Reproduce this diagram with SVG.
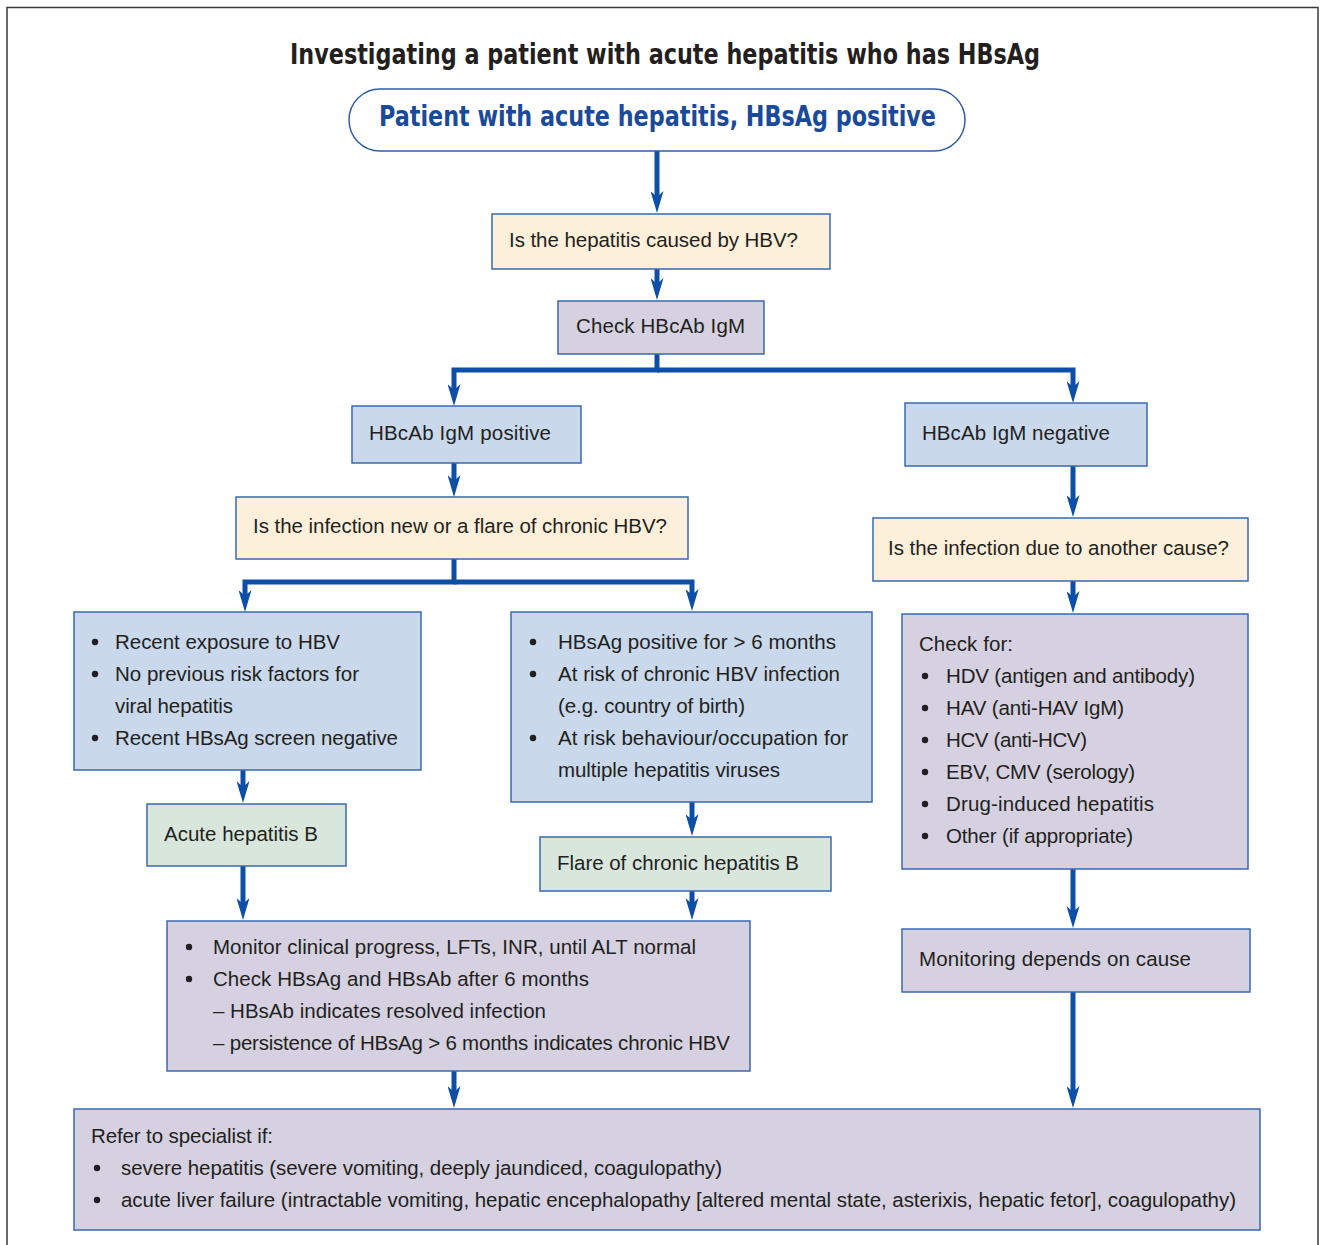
<svg xmlns="http://www.w3.org/2000/svg" width="1320" height="1245" viewBox="0 0 1320 1245">
<style>
.t{font-family:"Liberation Sans",Arial,sans-serif;font-size:20.5px;fill:#231f20}
.h{font-family:"DejaVu Sans Condensed","DejaVu Sans",sans-serif;font-weight:bold;font-stretch:condensed;font-size:29px}
.bx{stroke:#3a69b0;stroke-width:1.5}
.y{fill:#fdf0da}.p{fill:#d5d1e1}.b{fill:#c9d8ea}.g{fill:#d9e6dc}
.c{fill:none;stroke:#0d4ea6;stroke-width:5;stroke-linejoin:miter;marker-end:url(#ah)}
.d{fill:#231f20}
</style>
<defs>
<marker id="ah" viewBox="0 0 22 13" refX="6" refY="6.5" markerWidth="22" markerHeight="13" orient="auto" markerUnits="userSpaceOnUse">
<path d="M0,0 L22,6.5 L0,13 L6,6.5 Z" fill="#0d4ea6"/>
</marker>
</defs>
<rect width="1320" height="1245" fill="#ffffff"/>
<path d="M7,1245 V7.5 H1318 V1245" fill="none" stroke="#3a3a3a" stroke-width="1.5"/>
<g id="title"><text class="h" x="290" y="64" fill="#231f20" textLength="750" lengthAdjust="spacingAndGlyphs">Investigating a patient with acute hepatitis who has HBsAg</text></g>

<g id="connectors">
<path class="c" d="M657,151 V197"/>
<path class="c" d="M657,269 V284"/>
<path class="c" d="M657,354 V370 H454 V390"/>
<path class="c" d="M657,370 H1073 V387"/>
<path class="c" d="M454,463 V481"/>
<path class="c" d="M454,559 V582 H245 V596"/>
<path class="c" d="M454,582 H692 V595"/>
<path class="c" d="M1073,466 V501"/>
<path class="c" d="M1073,581 V597"/>
<path class="c" d="M243,770 V787"/>
<path class="c" d="M692,802 V820"/>
<path class="c" d="M243,866 V904"/>
<path class="c" d="M692,891 V904"/>
<path class="c" d="M1073,869 V912"/>
<path class="c" d="M454,1071 V1092"/>
<path class="c" d="M1073,992 V1092"/>
</g>

<g id="start">
<rect x="349" y="89" width="616" height="62" rx="31" fill="#ffffff" stroke="#2f5ea8" stroke-width="1.5"/>
<text class="h" x="379" y="126" fill="#1a4a9c" textLength="557" lengthAdjust="spacingAndGlyphs">Patient with acute hepatitis, HBsAg positive</text>
</g>

<g id="q-hbv">
<rect class="bx y" x="492" y="214" width="338" height="55"/>
<text class="t" x="509" y="247" textLength="289">Is the hepatitis caused by HBV?</text>
</g>

<g id="check-igm">
<rect class="bx p" x="558" y="301" width="206" height="53"/>
<text class="t" x="576" y="333" textLength="169">Check HBcAb IgM</text>
</g>

<g id="igm-pos">
<rect class="bx b" x="352" y="406" width="229" height="57"/>
<text class="t" x="369" y="440" textLength="182">HBcAb IgM positive</text>
</g>

<g id="igm-neg">
<rect class="bx b" x="905" y="403" width="242" height="63"/>
<text class="t" x="922" y="440" textLength="188">HBcAb IgM negative</text>
</g>

<g id="q-new">
<rect class="bx y" x="236" y="497" width="452" height="62"/>
<text class="t" x="253" y="533" textLength="414">Is the infection new or a flare of chronic HBV?</text>
</g>

<g id="q-other">
<rect class="bx y" x="873" y="518" width="375" height="63"/>
<text class="t" x="888" y="555" textLength="341">Is the infection due to another cause?</text>
</g>

<g id="new-criteria">
<rect class="bx b" x="74" y="612" width="347" height="158"/>
<circle class="d" cx="95" cy="642" r="3.2"/>
<circle class="d" cx="95" cy="674" r="3.2"/>
<circle class="d" cx="95" cy="738" r="3.2"/>
<text class="t" x="115" y="649" textLength="225">Recent exposure to HBV</text>
<text class="t" x="115" y="681" textLength="244">No previous risk factors for</text>
<text class="t" x="115" y="713" textLength="118">viral hepatitis</text>
<text class="t" x="115" y="745" textLength="283">Recent HBsAg screen negative</text>
</g>

<g id="flare-criteria">
<rect class="bx b" x="511" y="612" width="361" height="190"/>
<circle class="d" cx="533" cy="642" r="3.2"/>
<circle class="d" cx="533" cy="674" r="3.2"/>
<circle class="d" cx="533" cy="738" r="3.2"/>
<text class="t" x="558" y="649" textLength="278">HBsAg positive for &gt; 6 months</text>
<text class="t" x="558" y="681" textLength="282">At risk of chronic HBV infection</text>
<text class="t" x="558" y="713" textLength="187">(e.g. country of birth)</text>
<text class="t" x="558" y="745" textLength="290">At risk behaviour/occupation for</text>
<text class="t" x="558" y="777" textLength="222">multiple hepatitis viruses</text>
</g>

<g id="check-for">
<rect class="bx p" x="902" y="614" width="346" height="255"/>
<text class="t" x="919" y="651" textLength="94">Check for:</text>
<circle class="d" cx="925" cy="676" r="3.2"/>
<circle class="d" cx="925" cy="708" r="3.2"/>
<circle class="d" cx="925" cy="740" r="3.2"/>
<circle class="d" cx="925" cy="772" r="3.2"/>
<circle class="d" cx="925" cy="804" r="3.2"/>
<circle class="d" cx="925" cy="836" r="3.2"/>
<text class="t" x="946" y="683" textLength="249">HDV (antigen and antibody)</text>
<text class="t" x="946" y="715" textLength="178">HAV (anti-HAV IgM)</text>
<text class="t" x="946" y="747" textLength="141">HCV (anti-HCV)</text>
<text class="t" x="946" y="779" textLength="189">EBV, CMV (serology)</text>
<text class="t" x="946" y="811" textLength="208">Drug-induced hepatitis</text>
<text class="t" x="946" y="843" textLength="187">Other (if appropriate)</text>
</g>

<g id="acute-b">
<rect class="bx g" x="147" y="804" width="199" height="62"/>
<text class="t" x="164" y="841" textLength="154">Acute hepatitis B</text>
</g>

<g id="flare-b">
<rect class="bx g" x="540" y="837" width="291" height="54"/>
<text class="t" x="557" y="870" textLength="242">Flare of chronic hepatitis B</text>
</g>

<g id="monitor-cause">
<rect class="bx p" x="902" y="929" width="348" height="63"/>
<text class="t" x="919" y="966" textLength="272">Monitoring depends on cause</text>
</g>

<g id="monitor">
<rect class="bx p" x="167" y="921" width="583" height="150"/>
<circle class="d" cx="189" cy="947" r="3.2"/>
<circle class="d" cx="189" cy="979" r="3.2"/>
<text class="t" x="213" y="954" textLength="483">Monitor clinical progress, LFTs, INR, until ALT normal</text>
<text class="t" x="213" y="986" textLength="376">Check HBsAg and HBsAb after 6 months</text>
<text class="t" x="213" y="1018" textLength="333">– HBsAb indicates resolved infection</text>
<text class="t" x="213" y="1050" textLength="517">– persistence of HBsAg &gt; 6 months indicates chronic HBV</text>
</g>

<g id="refer">
<rect class="bx p" x="74" y="1109" width="1186" height="121"/>
<text class="t" x="91" y="1143" textLength="182">Refer to specialist if:</text>
<circle class="d" cx="97" cy="1168" r="3.2"/>
<circle class="d" cx="97" cy="1200" r="3.2"/>
<text class="t" x="121" y="1175" textLength="601">severe hepatitis (severe vomiting, deeply jaundiced, coagulopathy)</text>
<text class="t" x="121" y="1207" textLength="1115">acute liver failure (intractable vomiting, hepatic encephalopathy [altered mental state, asterixis, hepatic fetor], coagulopathy)</text>
</g>
</svg>
